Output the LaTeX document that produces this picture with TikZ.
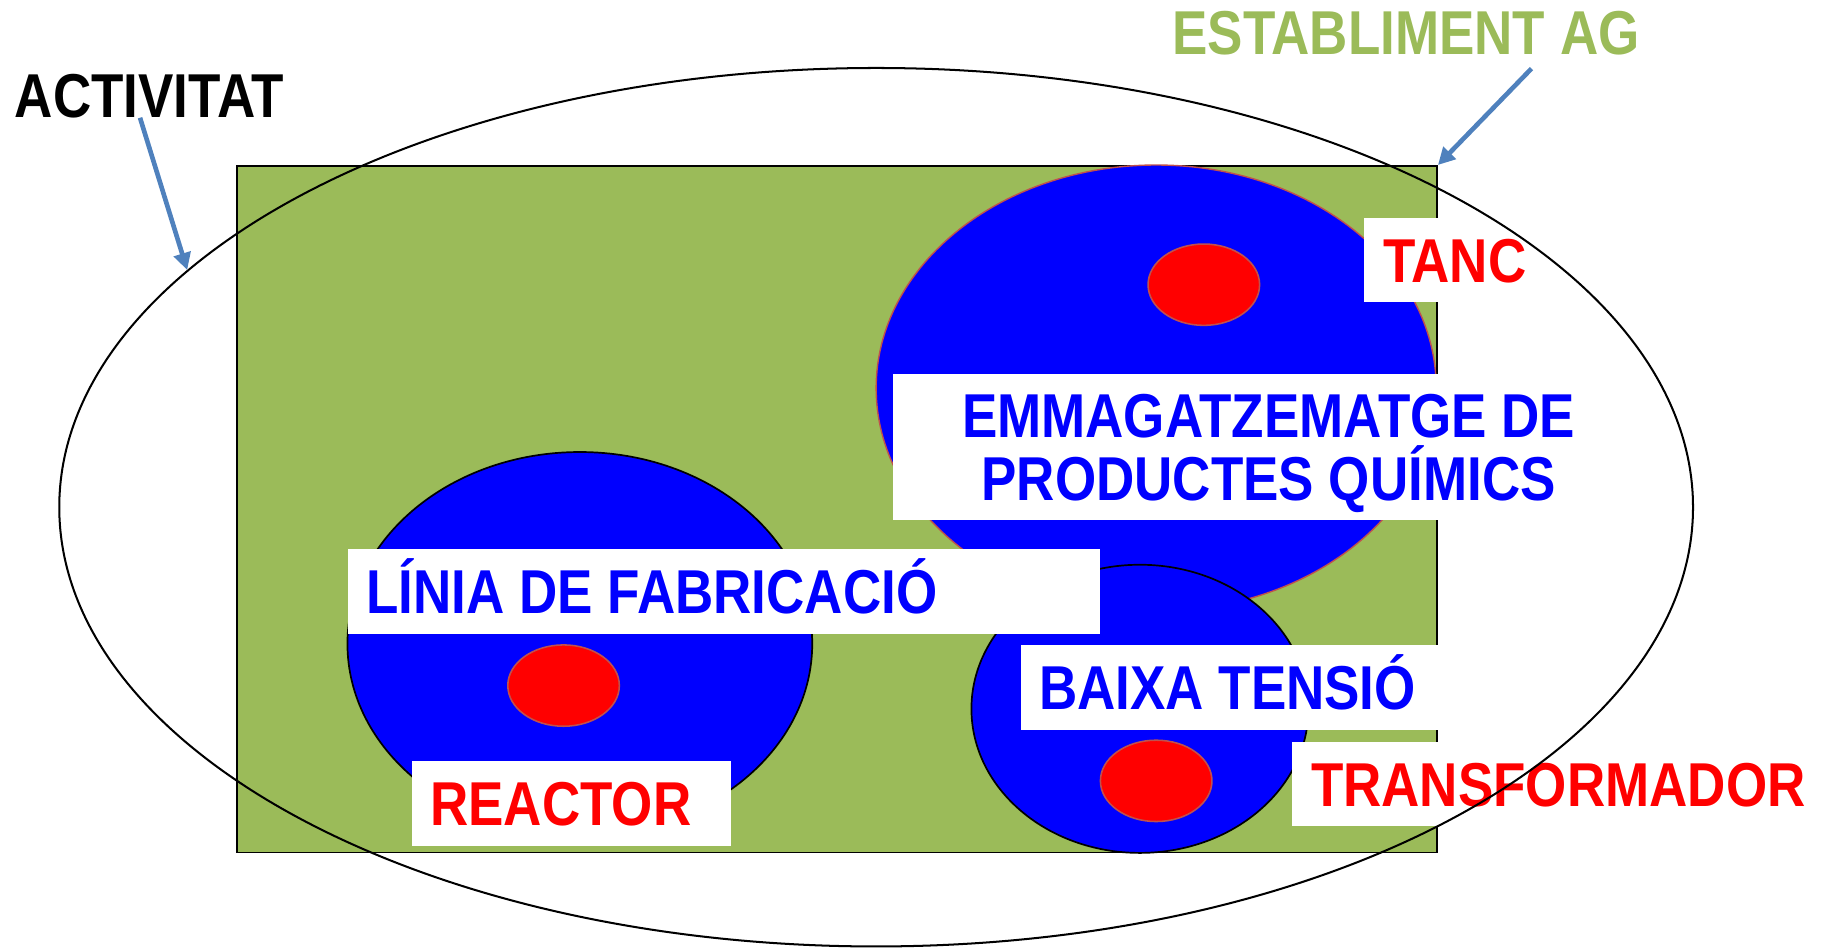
\documentclass[tikz,border=0pt]{standalone}
\usepackage{fontspec}
\newfontfamily\lblfont{Liberation Sans}[FakeStretch=0.855]
\usetikzlibrary{shapes.geometric,arrows.meta}

\definecolor{agGreen}{RGB}{155,187,89}
\definecolor{arrowBlue}{RGB}{79,129,189}
\definecolor{rimRed}{RGB}{192,80,77}

\tikzset{
  bigfont/.style={font=\lblfont\bfseries\fontsize{40}{40.5}\selectfont},
  lbl/.style={bigfont, fill=white, inner xsep=12pt, inner ysep=0pt, anchor=north west,
    align=flush left, text height=28.6pt, text depth=0pt, minimum height=54.75pt},
  zone/.style={ellipse, draw=black, fill=blue, inner sep=0pt, line width=1.1pt},
  unit/.style={ellipse, draw=rimRed, fill=red, inner sep=0pt, line width=1pt,
    minimum width=72pt, minimum height=52.5pt},
  pointer/.style={draw=arrowBlue, line width=3pt, -{Triangle[length=11pt,width=11pt]}}
}

\begin{document}
\begin{tikzpicture}[x=0.75pt,y=0.75pt,yscale=-1,xscale=1]
\useasboundingbox (0,0) rectangle (1568,815);

%Shape: Rectangle [establiment]
\node[draw, fill=agGreen, line width=1.1pt, inner sep=0pt, anchor=north west,
  minimum width=774.75pt, minimum height=443.25pt] (site) at (203,142) {};

%Shape: Ellipse [emmagatzematge]
\node[zone, draw=rimRed, line width=0.9pt, minimum width=361.5pt, minimum height=288pt] (store) at (995,334) {};
%Shape: Ellipse [linia]
\node[zone, minimum width=300pt, minimum height=247.5pt] (line) at (499,554) {};
%Shape: Ellipse [baixa tensio]
\node[zone, minimum width=217.5pt, minimum height=186pt] (lowv) at (981,610) {};

%Shape: Ellipse [tanc, reactor, transformador]
\node[unit] (tank) at (1036,245) {};
\node[unit] (reactor) at (485,590) {};
\node[unit] (trafo) at (995,672) {};

% Text Node
\node[lbl, text=red, text width=113.25pt] (tanklbl) at (1174,187) {TANC};
% Text Node
\node[bigfont, fill=white, text=blue, inner xsep=12pt, inner ysep=0pt, anchor=north west,
  align=flush center, text width=461.25pt, minimum height=93.75pt] (storelbl) at (768,322)
  {\rule{0pt}{36pt}EMMAGATZEMATGE DE\\PRODUCTES QUÍMICS};
% Text Node
\node[lbl, text=blue, text width=461.25pt] (linelbl) at (299,472) {LÍNIA DE FABRICACIÓ};
% Text Node
\node[lbl, text=red, text width=182.25pt] (reactorlbl) at (354,655) {REACTOR};
% Text Node
\node[lbl, text=blue, text width=245.25pt] (lowvlbl) at (878,555) {BAIXA TENSIÓ};
% Text Node
\node[lbl, text=red, text width=318pt] (trafolbl) at (1112,638) {TRANSFORMADOR};

%Shape: Ellipse [activitat]
\node[ellipse, draw=black, line width=1.3pt, inner sep=0pt,
  minimum width=1054.5pt, minimum height=567pt] (act) at (754,436.5) {};

% Text Node
\node[bigfont, inner sep=0pt, text height=28.6pt, text depth=0pt] (actlbl) at (128.5,82) {ACTIVITAT};
% Text Node
\node[bigfont, text=agGreen, inner sep=0pt, text height=28.6pt, text depth=0pt] (sitelbl) at (1210,28) {ESTABLIMENT AG};

%Straight Lines [arrows]
\coordinate (sitefoot) at (1318,59);
\draw[pointer] ([xshift=-6pt]actlbl.south) -- (act.161);
\draw[pointer] (sitefoot) -- (site.north east);

\end{tikzpicture}
\end{document}
